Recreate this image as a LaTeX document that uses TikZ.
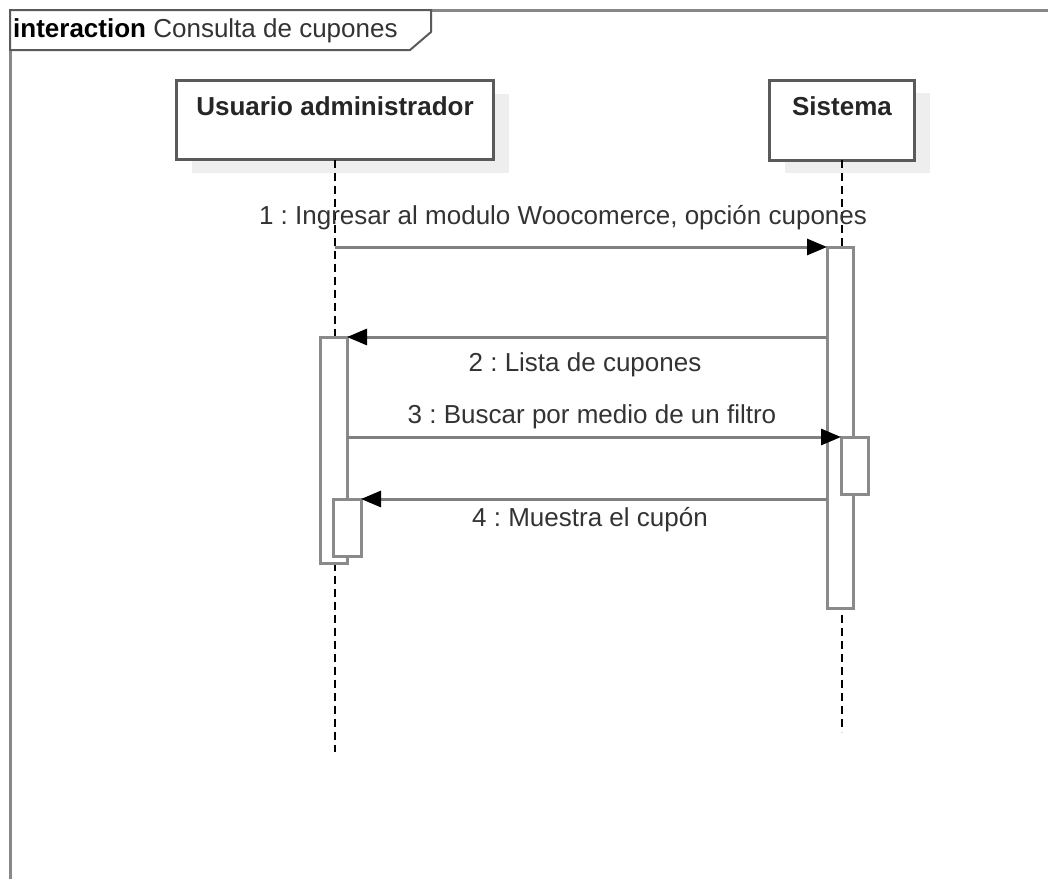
\documentclass[tikz,border=0pt]{standalone}
\usepackage{fontspec}
\setmainfont{Liberation Sans}
\usetikzlibrary{arrows.meta}
\frenchspacing
\definecolor{framegray}{HTML}{888888}
\definecolor{boxgray}{HTML}{5A5A5A}
\definecolor{actgray}{HTML}{8A8A8A}
\definecolor{msggray}{HTML}{808080}
\definecolor{shadowgray}{HTML}{EEEEEE}
\definecolor{txtgray}{HTML}{333333}
\tikzset{
  headbox/.style={draw=boxgray, line width=3pt, fill=white, inner sep=0pt, outer sep=0pt},
  shadowbox/.style={fill=shadowgray, draw=none, inner sep=0pt, outer sep=0pt},
  headtext/.style={font=\fontsize{26}{30}\selectfont\bfseries, text=black!85, inner sep=0pt},
  actbox/.style={draw=actgray, line width=3pt, fill=white, inner sep=0pt, outer sep=0pt},
  lifeline/.style={draw=black, line width=2pt, dash pattern=on 8pt off 5pt},
  msg/.style={draw=msggray, line width=3pt, -{Triangle[length=20pt,width=16pt,color=black,fill=black]}},
  msglabel/.style={font=\fontsize{26}{30}\selectfont, text=txtgray, inner sep=0pt},
}
\begin{document}
\begin{tikzpicture}[x=1pt,y=-1pt]
\useasboundingbox (0,0) rectangle (1048,878);
\clip (0,0) rectangle (1048,878);
% frame
\draw[draw=framegray, line width=3pt] (10,10) rectangle (1070,900);
\draw[draw=boxgray, line width=2pt, fill=white] (10,10) -- (431,10) -- (431,32) -- (410,50) -- (10,50) -- cycle;
\node[anchor=west, inner sep=0pt, font=\fontsize{26}{30}\selectfont] (title) at (13,31) {\textbf{interaction} \textcolor{txtgray}{Consulta de cupones}};
% lifeline heads
\node[shadowbox, minimum width=317pt, minimum height=79pt] (uash) at (350,133) {};
\node[shadowbox, minimum width=145pt, minimum height=80pt] (sish) at (857,133) {};
\node[headbox, minimum width=317pt, minimum height=79pt] (ua) at (335,120) {};
\node[headbox, minimum width=145pt, minimum height=80pt] (si) at (842,120) {};
\node[headtext] (uaL) at (335,106) {Usuario administrador};
\node[headtext] (siL) at (842,106) {Sistema};
% lifelines
\coordinate (uaEnd) at (335,752);
\coordinate (siEnd) at (842,732);
\draw[lifeline] (ua.south) -- (uaEnd);
\draw[lifeline] (si.south) -- (siEnd);
% activations
\node[actbox, minimum width=26pt, minimum height=361pt] (sA) at (840,427.5) {};
\node[actbox, minimum width=27pt, minimum height=57pt] (sB) at (854.5,465.5) {};
\node[actbox, minimum width=27pt, minimum height=226pt] (uA) at (333.5,450) {};
\node[actbox, minimum width=28pt, minimum height=57pt] (uB) at (347,527.5) {};
% messages
\coordinate (m1s) at (335,247);
\draw[msg] (m1s) -- (sA.north west);
\draw[msg] (sA.west |- uA.north) -- (uA.north east);
\draw[msg] (uA.east |- sB.north) -- (sB.north west);
\draw[msg] (sA.west |- uB.north) -- (uB.north east);
% labels
\node[msglabel] (l1) at (563,218) {1 : Ingresar al modulo Woocomerce, opción cupones};
\node[msglabel] (l2) at (585,365) {2 : Lista de cupones};
\node[msglabel] (l3) at (592,417) {3 : Buscar por medio de un filtro};
\node[msglabel] (l4) at (590,520) {4 : Muestra el cupón};
\end{tikzpicture}
\end{document}
